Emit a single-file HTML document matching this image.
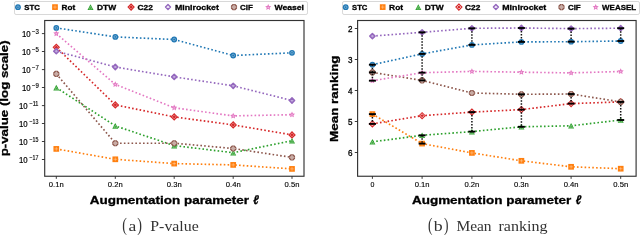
<!DOCTYPE html><html><head><meta charset="utf-8"><style>html,body{margin:0;padding:0;background:#fff;}svg{display:block;will-change:transform;filter:blur(0.3px);}</style></head><body>
<svg width="640" height="235" viewBox="0 0 640 235">
<rect width="640" height="235" fill="#fff"/>
<polyline points="56.3,27.9 115.3,36.9 174.2,39.5 233.2,55.5 292.0,52.8" fill="none" stroke="#1f77b4" stroke-width="1.65" stroke-dasharray="1.6 2.23"/>
<circle cx="56.3" cy="27.9" r="2.9" fill="#1f77b4"/>
<circle cx="56.3" cy="27.9" r="1.3" fill="none" stroke="rgba(255,255,255,0.45)" stroke-width="0.7"/>
<circle cx="115.3" cy="36.9" r="2.9" fill="#1f77b4"/>
<circle cx="115.3" cy="36.9" r="1.3" fill="none" stroke="rgba(255,255,255,0.45)" stroke-width="0.7"/>
<circle cx="174.2" cy="39.5" r="2.9" fill="#1f77b4"/>
<circle cx="174.2" cy="39.5" r="1.3" fill="none" stroke="rgba(255,255,255,0.45)" stroke-width="0.7"/>
<circle cx="233.2" cy="55.5" r="2.9" fill="#1f77b4"/>
<circle cx="233.2" cy="55.5" r="1.3" fill="none" stroke="rgba(255,255,255,0.45)" stroke-width="0.7"/>
<circle cx="292.0" cy="52.8" r="2.9" fill="#1f77b4"/>
<circle cx="292.0" cy="52.8" r="1.3" fill="none" stroke="rgba(255,255,255,0.45)" stroke-width="0.7"/>
<polyline points="56.3,148.9 115.3,159.3 174.2,163.6 233.2,164.9 292.0,168.9" fill="none" stroke="#ff7f0e" stroke-width="1.65" stroke-dasharray="1.6 2.23"/>
<rect x="53.449999999999996" y="146.05" width="5.7" height="5.7" fill="#ff7f0e"/>
<path d="M54.449999999999996,148.9 H58.15 M56.3,147.05 V150.75" stroke="rgba(255,255,255,0.45)" stroke-width="0.7"/>
<rect x="112.45" y="156.45000000000002" width="5.7" height="5.7" fill="#ff7f0e"/>
<path d="M113.45,159.3 H117.14999999999999 M115.3,157.45000000000002 V161.15" stroke="rgba(255,255,255,0.45)" stroke-width="0.7"/>
<rect x="171.35" y="160.75" width="5.7" height="5.7" fill="#ff7f0e"/>
<path d="M172.35,163.6 H176.04999999999998 M174.2,161.75 V165.45" stroke="rgba(255,255,255,0.45)" stroke-width="0.7"/>
<rect x="230.35" y="162.05" width="5.7" height="5.7" fill="#ff7f0e"/>
<path d="M231.35,164.9 H235.04999999999998 M233.2,163.05 V166.75" stroke="rgba(255,255,255,0.45)" stroke-width="0.7"/>
<rect x="289.15" y="166.05" width="5.7" height="5.7" fill="#ff7f0e"/>
<path d="M290.15,168.9 H293.85 M292.0,167.05 V170.75" stroke="rgba(255,255,255,0.45)" stroke-width="0.7"/>
<polyline points="56.3,87.6 115.3,125.9 174.2,145.6 233.2,152.7 292.0,140.7" fill="none" stroke="#2ca02c" stroke-width="1.65" stroke-dasharray="1.6 2.23"/>
<path d="M56.3,84.8 L59.3,90.39999999999999 L53.3,90.39999999999999 Z" fill="#2ca02c"/>
<path d="M56.3,86.8 L57.699999999999996,89.6 L54.9,89.6 Z" fill="none" stroke="rgba(255,255,255,0.45)" stroke-width="0.6"/>
<path d="M115.3,123.10000000000001 L118.3,128.70000000000002 L112.3,128.70000000000002 Z" fill="#2ca02c"/>
<path d="M115.3,125.10000000000001 L116.7,127.90000000000002 L113.89999999999999,127.90000000000002 Z" fill="none" stroke="rgba(255,255,255,0.45)" stroke-width="0.6"/>
<path d="M174.2,142.79999999999998 L177.2,148.4 L171.2,148.4 Z" fill="#2ca02c"/>
<path d="M174.2,144.79999999999998 L175.6,147.6 L172.79999999999998,147.6 Z" fill="none" stroke="rgba(255,255,255,0.45)" stroke-width="0.6"/>
<path d="M233.2,149.89999999999998 L236.2,155.5 L230.2,155.5 Z" fill="#2ca02c"/>
<path d="M233.2,151.89999999999998 L234.6,154.7 L231.79999999999998,154.7 Z" fill="none" stroke="rgba(255,255,255,0.45)" stroke-width="0.6"/>
<path d="M292.0,137.89999999999998 L295.0,143.5 L289.0,143.5 Z" fill="#2ca02c"/>
<path d="M292.0,139.89999999999998 L293.4,142.7 L290.6,142.7 Z" fill="none" stroke="rgba(255,255,255,0.45)" stroke-width="0.6"/>
<polyline points="56.3,47.3 115.3,104.9 174.2,116.9 233.2,124.9 292.0,134.9" fill="none" stroke="#d62728" stroke-width="1.65" stroke-dasharray="1.6 2.23"/>
<path d="M56.3,43.5 L60.099999999999994,47.3 L56.3,51.099999999999994 L52.5,47.3 Z" fill="#d62728"/>
<path d="M56.3,45.3 L58.3,47.3 L56.3,49.3 L54.3,47.3 Z" fill="none" stroke="rgba(255,255,255,0.45)" stroke-width="0.8"/>
<path d="M115.3,101.10000000000001 L119.1,104.9 L115.3,108.7 L111.5,104.9 Z" fill="#d62728"/>
<path d="M115.3,102.9 L117.3,104.9 L115.3,106.9 L113.3,104.9 Z" fill="none" stroke="rgba(255,255,255,0.45)" stroke-width="0.8"/>
<path d="M174.2,113.10000000000001 L178.0,116.9 L174.2,120.7 L170.39999999999998,116.9 Z" fill="#d62728"/>
<path d="M174.2,114.9 L176.2,116.9 L174.2,118.9 L172.2,116.9 Z" fill="none" stroke="rgba(255,255,255,0.45)" stroke-width="0.8"/>
<path d="M233.2,121.10000000000001 L237.0,124.9 L233.2,128.70000000000002 L229.39999999999998,124.9 Z" fill="#d62728"/>
<path d="M233.2,122.9 L235.2,124.9 L233.2,126.9 L231.2,124.9 Z" fill="none" stroke="rgba(255,255,255,0.45)" stroke-width="0.8"/>
<path d="M292.0,131.1 L295.8,134.9 L292.0,138.70000000000002 L288.2,134.9 Z" fill="#d62728"/>
<path d="M292.0,132.9 L294.0,134.9 L292.0,136.9 L290.0,134.9 Z" fill="none" stroke="rgba(255,255,255,0.45)" stroke-width="0.8"/>
<polyline points="56.3,51.2 115.3,67.0 174.2,76.9 233.2,85.8 292.0,100.5" fill="none" stroke="#9467bd" stroke-width="1.65" stroke-dasharray="1.6 2.23"/>
<path d="M56.3,48.6 L58.9,51.2 L56.3,53.800000000000004 L53.699999999999996,51.2 Z" fill="#c2acdc" stroke="#9467bd" stroke-width="1.5" stroke-linejoin="round"/>
<path d="M115.3,64.4 L117.89999999999999,67.0 L115.3,69.6 L112.7,67.0 Z" fill="#c2acdc" stroke="#9467bd" stroke-width="1.5" stroke-linejoin="round"/>
<path d="M174.2,74.30000000000001 L176.79999999999998,76.9 L174.2,79.5 L171.6,76.9 Z" fill="#c2acdc" stroke="#9467bd" stroke-width="1.5" stroke-linejoin="round"/>
<path d="M233.2,83.2 L235.79999999999998,85.8 L233.2,88.39999999999999 L230.6,85.8 Z" fill="#c2acdc" stroke="#9467bd" stroke-width="1.5" stroke-linejoin="round"/>
<path d="M292.0,97.9 L294.6,100.5 L292.0,103.1 L289.4,100.5 Z" fill="#c2acdc" stroke="#9467bd" stroke-width="1.5" stroke-linejoin="round"/>
<polyline points="56.3,73.9 115.3,143.2 174.2,143.2 233.2,148.5 292.0,157.4" fill="none" stroke="#8c564b" stroke-width="1.65" stroke-dasharray="1.6 2.23"/>
<path d="M55.25,71.45 L57.35,71.45 L58.75,72.85 L58.75,74.95 L57.35,76.35 L55.25,76.35 L53.85,74.95 L53.85,72.85 Z" fill="#c9aca5" stroke="#8c564b" stroke-width="1.25"/>
<path d="M53.449999999999996,73.9 H54.74999999999999 M59.15,73.9 H57.85 M56.3,71.05 V72.35000000000001 M56.3,76.75000000000001 V75.45" stroke="#fff" stroke-width="0.6" opacity="0.6"/>
<path d="M114.25,140.75 L116.35,140.75 L117.75,142.15 L117.75,144.25 L116.35,145.65 L114.25,145.65 L112.85,144.25 L112.85,142.15 Z" fill="#c9aca5" stroke="#8c564b" stroke-width="1.25"/>
<path d="M112.44999999999999,143.2 H113.75 M118.15,143.2 H116.85 M115.3,140.35 V141.65 M115.3,146.04999999999998 V144.74999999999997" stroke="#fff" stroke-width="0.6" opacity="0.6"/>
<path d="M173.15,140.75 L175.25,140.75 L176.65,142.15 L176.65,144.25 L175.25,145.65 L173.15,145.65 L171.75,144.25 L171.75,142.15 Z" fill="#c9aca5" stroke="#8c564b" stroke-width="1.25"/>
<path d="M171.35,143.2 H172.65 M177.04999999999998,143.2 H175.74999999999997 M174.2,140.35 V141.65 M174.2,146.04999999999998 V144.74999999999997" stroke="#fff" stroke-width="0.6" opacity="0.6"/>
<path d="M232.15,146.05 L234.25,146.05 L235.65,147.45 L235.65,149.55 L234.25,150.95 L232.15,150.95 L230.75,149.55 L230.75,147.45 Z" fill="#c9aca5" stroke="#8c564b" stroke-width="1.25"/>
<path d="M230.35,148.5 H231.65 M236.04999999999998,148.5 H234.74999999999997 M233.2,145.65 V146.95000000000002 M233.2,151.35 V150.04999999999998" stroke="#fff" stroke-width="0.6" opacity="0.6"/>
<path d="M290.95,154.95 L293.05,154.95 L294.45,156.35 L294.45,158.45 L293.05,159.85 L290.95,159.85 L289.55,158.45 L289.55,156.35 Z" fill="#c9aca5" stroke="#8c564b" stroke-width="1.25"/>
<path d="M289.15000000000003,157.4 H290.45 M294.84999999999997,157.4 H293.55 M292.0,154.55 V155.85000000000002 M292.0,160.25 V158.95" stroke="#fff" stroke-width="0.6" opacity="0.6"/>
<polyline points="56.3,33.6 115.3,84.4 174.2,107.8 233.2,115.9 292.0,114.7" fill="none" stroke="#e377c2" stroke-width="1.65" stroke-dasharray="1.6 2.23"/>
<path d="M56.30,30.40 L57.21,32.35 L59.34,32.61 L57.77,34.08 L58.18,36.19 L56.30,35.15 L54.42,36.19 L54.83,34.08 L53.26,32.61 L55.39,32.35 Z" fill="#e377c2"/>
<circle cx="56.3" cy="33.800000000000004" r="0.8" fill="rgba(255,255,255,0.5)"/>
<path d="M115.30,81.20 L116.21,83.15 L118.34,83.41 L116.77,84.88 L117.18,86.99 L115.30,85.95 L113.42,86.99 L113.83,84.88 L112.26,83.41 L114.39,83.15 Z" fill="#e377c2"/>
<circle cx="115.3" cy="84.60000000000001" r="0.8" fill="rgba(255,255,255,0.5)"/>
<path d="M174.20,104.60 L175.11,106.55 L177.24,106.81 L175.67,108.28 L176.08,110.39 L174.20,109.35 L172.32,110.39 L172.73,108.28 L171.16,106.81 L173.29,106.55 Z" fill="#e377c2"/>
<circle cx="174.2" cy="108.0" r="0.8" fill="rgba(255,255,255,0.5)"/>
<path d="M233.20,112.70 L234.11,114.65 L236.24,114.91 L234.67,116.38 L235.08,118.49 L233.20,117.45 L231.32,118.49 L231.73,116.38 L230.16,114.91 L232.29,114.65 Z" fill="#e377c2"/>
<circle cx="233.2" cy="116.10000000000001" r="0.8" fill="rgba(255,255,255,0.5)"/>
<path d="M292.00,111.50 L292.91,113.45 L295.04,113.71 L293.47,115.18 L293.88,117.29 L292.00,116.25 L290.12,117.29 L290.53,115.18 L288.96,113.71 L291.09,113.45 Z" fill="#e377c2"/>
<circle cx="292.0" cy="114.9" r="0.8" fill="rgba(255,255,255,0.5)"/>
<rect x="44.7" y="20.5" width="259.3" height="155.75" fill="none" stroke="#333" stroke-width="1.15"/>
<line x1="41.900000000000006" y1="33.6" x2="44.7" y2="33.6" stroke="#262626" stroke-width="0.9"/>
<text x="31.9" y="34.1" font-size="6.3" font-family='"Liberation Sans", sans-serif' textLength="6.9" lengthAdjust="spacingAndGlyphs" stroke="#000" stroke-width="0.15">−3</text>
<text x="30.6" y="36.800000000000004" font-size="9.0" font-weight="normal" font-style="normal" font-family='"Liberation Sans", sans-serif' text-anchor="end" textLength="8.7" lengthAdjust="spacingAndGlyphs" stroke="#000" stroke-width="0.2">10</text>
<line x1="41.900000000000006" y1="51.5" x2="44.7" y2="51.5" stroke="#262626" stroke-width="0.9"/>
<text x="31.9" y="52.0" font-size="6.3" font-family='"Liberation Sans", sans-serif' textLength="6.9" lengthAdjust="spacingAndGlyphs" stroke="#000" stroke-width="0.15">−5</text>
<text x="30.6" y="54.7" font-size="9.0" font-weight="normal" font-style="normal" font-family='"Liberation Sans", sans-serif' text-anchor="end" textLength="8.7" lengthAdjust="spacingAndGlyphs" stroke="#000" stroke-width="0.2">10</text>
<line x1="41.900000000000006" y1="69.6" x2="44.7" y2="69.6" stroke="#262626" stroke-width="0.9"/>
<text x="31.9" y="70.1" font-size="6.3" font-family='"Liberation Sans", sans-serif' textLength="6.9" lengthAdjust="spacingAndGlyphs" stroke="#000" stroke-width="0.15">−7</text>
<text x="30.6" y="72.8" font-size="9.0" font-weight="normal" font-style="normal" font-family='"Liberation Sans", sans-serif' text-anchor="end" textLength="8.7" lengthAdjust="spacingAndGlyphs" stroke="#000" stroke-width="0.2">10</text>
<line x1="41.900000000000006" y1="87.5" x2="44.7" y2="87.5" stroke="#262626" stroke-width="0.9"/>
<text x="31.9" y="88.0" font-size="6.3" font-family='"Liberation Sans", sans-serif' textLength="6.9" lengthAdjust="spacingAndGlyphs" stroke="#000" stroke-width="0.15">−9</text>
<text x="30.6" y="90.7" font-size="9.0" font-weight="normal" font-style="normal" font-family='"Liberation Sans", sans-serif' text-anchor="end" textLength="8.7" lengthAdjust="spacingAndGlyphs" stroke="#000" stroke-width="0.2">10</text>
<line x1="41.900000000000006" y1="105.6" x2="44.7" y2="105.6" stroke="#262626" stroke-width="0.9"/>
<text x="29.4" y="106.1" font-size="6.3" font-family='"Liberation Sans", sans-serif' textLength="9.0" lengthAdjust="spacingAndGlyphs" stroke="#000" stroke-width="0.15">−11</text>
<text x="27.6" y="108.8" font-size="9.0" font-weight="normal" font-style="normal" font-family='"Liberation Sans", sans-serif' text-anchor="end" textLength="8.7" lengthAdjust="spacingAndGlyphs" stroke="#000" stroke-width="0.2">10</text>
<line x1="41.900000000000006" y1="123.5" x2="44.7" y2="123.5" stroke="#262626" stroke-width="0.9"/>
<text x="29.4" y="124.0" font-size="6.3" font-family='"Liberation Sans", sans-serif' textLength="9.0" lengthAdjust="spacingAndGlyphs" stroke="#000" stroke-width="0.15">−13</text>
<text x="27.6" y="126.7" font-size="9.0" font-weight="normal" font-style="normal" font-family='"Liberation Sans", sans-serif' text-anchor="end" textLength="8.7" lengthAdjust="spacingAndGlyphs" stroke="#000" stroke-width="0.2">10</text>
<line x1="41.900000000000006" y1="141.5" x2="44.7" y2="141.5" stroke="#262626" stroke-width="0.9"/>
<text x="29.4" y="142.0" font-size="6.3" font-family='"Liberation Sans", sans-serif' textLength="9.0" lengthAdjust="spacingAndGlyphs" stroke="#000" stroke-width="0.15">−15</text>
<text x="27.6" y="144.7" font-size="9.0" font-weight="normal" font-style="normal" font-family='"Liberation Sans", sans-serif' text-anchor="end" textLength="8.7" lengthAdjust="spacingAndGlyphs" stroke="#000" stroke-width="0.2">10</text>
<line x1="41.900000000000006" y1="159.5" x2="44.7" y2="159.5" stroke="#262626" stroke-width="0.9"/>
<text x="29.4" y="160.0" font-size="6.3" font-family='"Liberation Sans", sans-serif' textLength="9.0" lengthAdjust="spacingAndGlyphs" stroke="#000" stroke-width="0.15">−17</text>
<text x="27.6" y="162.7" font-size="9.0" font-weight="normal" font-style="normal" font-family='"Liberation Sans", sans-serif' text-anchor="end" textLength="8.7" lengthAdjust="spacingAndGlyphs" stroke="#000" stroke-width="0.2">10</text>
<line x1="56.3" y1="176.25" x2="56.3" y2="178.85" stroke="#262626" stroke-width="0.9"/>
<text x="56.3" y="186.9" font-size="7.0" font-weight="normal" font-style="normal" font-family='"Liberation Sans", sans-serif' text-anchor="middle" textLength="14.9" lengthAdjust="spacingAndGlyphs" stroke="#000" stroke-width="0.12">0.1n</text>
<line x1="115.3" y1="176.25" x2="115.3" y2="178.85" stroke="#262626" stroke-width="0.9"/>
<text x="115.3" y="186.9" font-size="7.0" font-weight="normal" font-style="normal" font-family='"Liberation Sans", sans-serif' text-anchor="middle" textLength="14.9" lengthAdjust="spacingAndGlyphs" stroke="#000" stroke-width="0.12">0.2n</text>
<line x1="174.2" y1="176.25" x2="174.2" y2="178.85" stroke="#262626" stroke-width="0.9"/>
<text x="174.2" y="186.9" font-size="7.0" font-weight="normal" font-style="normal" font-family='"Liberation Sans", sans-serif' text-anchor="middle" textLength="14.9" lengthAdjust="spacingAndGlyphs" stroke="#000" stroke-width="0.12">0.3n</text>
<line x1="233.2" y1="176.25" x2="233.2" y2="178.85" stroke="#262626" stroke-width="0.9"/>
<text x="233.2" y="186.9" font-size="7.0" font-weight="normal" font-style="normal" font-family='"Liberation Sans", sans-serif' text-anchor="middle" textLength="14.9" lengthAdjust="spacingAndGlyphs" stroke="#000" stroke-width="0.12">0.4n</text>
<line x1="292.0" y1="176.25" x2="292.0" y2="178.85" stroke="#262626" stroke-width="0.9"/>
<text x="292.0" y="186.9" font-size="7.0" font-weight="normal" font-style="normal" font-family='"Liberation Sans", sans-serif' text-anchor="middle" textLength="14.9" lengthAdjust="spacingAndGlyphs" stroke="#000" stroke-width="0.12">0.5n</text>
<text x="89.75" y="203.5" font-size="10.5" font-weight="bold" font-style="normal" font-family='"Liberation Sans", sans-serif' text-anchor="start" textLength="159.25" lengthAdjust="spacingAndGlyphs"  stroke="#000" stroke-width="0.3">Augmentation parameter</text>
<text x="253.3" y="203.6" font-size="12.5" font-weight="bold" font-style="italic" font-family='"Liberation Sans", sans-serif' text-anchor="start" textLength="5.6" lengthAdjust="spacingAndGlyphs"  stroke="#000" stroke-width="0.3">ℓ</text>
<g transform="translate(8.4,98.35) rotate(-90)">
<text x="0" y="0" font-size="11.5" font-weight="bold" font-style="normal" font-family='"Liberation Sans", sans-serif' text-anchor="middle" textLength="116" lengthAdjust="spacingAndGlyphs"  stroke="#000" stroke-width="0.3">p-value (log scale)</text>
</g>
<text transform="translate(122.3,231.1) scale(1,1.38)" x="0" y="0" font-size="14" font-family='"Liberation Serif", serif' fill="#333" textLength="4.6" lengthAdjust="spacingAndGlyphs">(</text>
<text x="128.5" y="231.1" font-size="15" font-weight="normal" font-style="normal" font-family='"Liberation Serif", serif' text-anchor="start" textLength="7.8" lengthAdjust="spacingAndGlyphs" fill="#333">a</text>
<text transform="translate(137.2,231.1) scale(1,1.38)" x="0" y="0" font-size="14" font-family='"Liberation Serif", serif' fill="#333" textLength="4.7" lengthAdjust="spacingAndGlyphs">)</text>
<text x="150.3" y="231.1" font-size="14" font-weight="normal" font-style="normal" font-family='"Liberation Serif", serif' text-anchor="start" textLength="48.45" lengthAdjust="spacingAndGlyphs" fill="#333">P-value</text>
<rect x="14.5" y="1.5" width="293" height="13" rx="1.6" fill="#fff" stroke="#d8d8d8" stroke-width="1"/>
<circle cx="17.96" cy="7.2" r="2.9" fill="#1f77b4"/>
<circle cx="17.96" cy="7.2" r="1.3" fill="none" stroke="rgba(255,255,255,0.45)" stroke-width="0.7"/>
<text x="24.3" y="9.9" font-size="8.1" font-weight="bold" font-style="normal" font-family='"Liberation Sans", sans-serif' text-anchor="start" textLength="15.6" lengthAdjust="spacingAndGlyphs"  stroke="#000" stroke-width="0.3">STC</text>
<rect x="52.15" y="4.25" width="5.7" height="5.7" fill="#ff7f0e"/>
<path d="M53.15,7.1 H56.85 M55.0,5.25 V8.95" stroke="rgba(255,255,255,0.45)" stroke-width="0.7"/>
<text x="61.6" y="9.9" font-size="8.1" font-weight="bold" font-style="normal" font-family='"Liberation Sans", sans-serif' text-anchor="start" textLength="13.7" lengthAdjust="spacingAndGlyphs"  stroke="#000" stroke-width="0.3">Rot</text>
<path d="M90.5,4.3 L93.5,9.899999999999999 L87.5,9.899999999999999 Z" fill="#2ca02c"/>
<path d="M90.5,6.3 L91.9,9.099999999999998 L89.1,9.099999999999998 Z" fill="none" stroke="rgba(255,255,255,0.45)" stroke-width="0.6"/>
<text x="96.9" y="9.9" font-size="8.1" font-weight="bold" font-style="normal" font-family='"Liberation Sans", sans-serif' text-anchor="start" textLength="19.2" lengthAdjust="spacingAndGlyphs"  stroke="#000" stroke-width="0.3">DTW</text>
<path d="M131.1,3.3 L134.9,7.1 L131.1,10.899999999999999 L127.3,7.1 Z" fill="#d62728"/>
<path d="M131.1,5.1 L133.1,7.1 L131.1,9.1 L129.1,7.1 Z" fill="none" stroke="rgba(255,255,255,0.45)" stroke-width="0.8"/>
<text x="137.5" y="9.9" font-size="8.1" font-weight="bold" font-style="normal" font-family='"Liberation Sans", sans-serif' text-anchor="start" textLength="15.3" lengthAdjust="spacingAndGlyphs"  stroke="#000" stroke-width="0.3">C22</text>
<path d="M168.0,4.6 L170.5,7.1 L168.0,9.6 L165.5,7.1 Z" fill="#f2ecf8" stroke="#9467bd" stroke-width="1.4" stroke-linejoin="round"/>
<text x="174.9" y="9.9" font-size="8.1" font-weight="bold" font-style="normal" font-family='"Liberation Sans", sans-serif' text-anchor="start" textLength="44.0" lengthAdjust="spacingAndGlyphs"  stroke="#000" stroke-width="0.3">Minirocket</text>
<path d="M232.95,4.65 L235.05,4.65 L236.45,6.05 L236.45,8.15 L235.05,9.55 L232.95,9.55 L231.55,8.15 L231.55,6.05 Z" fill="#c9aca5" stroke="#8c564b" stroke-width="1.25"/>
<path d="M231.15,7.1 H232.45000000000002 M236.85,7.1 H235.54999999999998 M234.0,4.249999999999999 V5.55 M234.0,9.950000000000001 V8.65" stroke="#fff" stroke-width="0.6" opacity="0.6"/>
<text x="240.0" y="9.9" font-size="8.1" font-weight="bold" font-style="normal" font-family='"Liberation Sans", sans-serif' text-anchor="start" textLength="12.8" lengthAdjust="spacingAndGlyphs"  stroke="#000" stroke-width="0.3">CIF</text>
<path d="M268.20,4.10 L269.11,6.05 L271.24,6.31 L269.67,7.78 L270.08,9.89 L268.20,8.85 L266.32,9.89 L266.73,7.78 L265.16,6.31 L267.29,6.05 Z" fill="#e377c2"/>
<circle cx="268.2" cy="7.5" r="0.8" fill="rgba(255,255,255,0.5)"/>
<text x="274.5" y="9.9" font-size="8.1" font-weight="bold" font-style="normal" font-family='"Liberation Sans", sans-serif' text-anchor="start" textLength="29.5" lengthAdjust="spacingAndGlyphs"  stroke="#000" stroke-width="0.3">Weasel</text>
<polyline points="372.4,64.7 422.1,53.9 471.9,44.9 521.4,41.9 571.1,41.7 620.7,41.0" fill="none" stroke="#1f77b4" stroke-width="1.65" stroke-dasharray="1.6 2.23"/>
<circle cx="372.4" cy="64.7" r="2.9" fill="#1f77b4"/>
<circle cx="372.4" cy="64.7" r="1.3" fill="none" stroke="rgba(255,255,255,0.45)" stroke-width="0.7"/>
<circle cx="422.1" cy="53.9" r="2.9" fill="#1f77b4"/>
<circle cx="422.1" cy="53.9" r="1.3" fill="none" stroke="rgba(255,255,255,0.45)" stroke-width="0.7"/>
<circle cx="471.9" cy="44.9" r="2.9" fill="#1f77b4"/>
<circle cx="471.9" cy="44.9" r="1.3" fill="none" stroke="rgba(255,255,255,0.45)" stroke-width="0.7"/>
<circle cx="521.4" cy="41.9" r="2.9" fill="#1f77b4"/>
<circle cx="521.4" cy="41.9" r="1.3" fill="none" stroke="rgba(255,255,255,0.45)" stroke-width="0.7"/>
<circle cx="571.1" cy="41.7" r="2.9" fill="#1f77b4"/>
<circle cx="571.1" cy="41.7" r="1.3" fill="none" stroke="rgba(255,255,255,0.45)" stroke-width="0.7"/>
<circle cx="620.7" cy="41.0" r="2.9" fill="#1f77b4"/>
<circle cx="620.7" cy="41.0" r="1.3" fill="none" stroke="rgba(255,255,255,0.45)" stroke-width="0.7"/>
<polyline points="372.4,114.1 422.1,143.6 471.9,152.9 521.4,160.8 571.1,166.8 620.7,168.7" fill="none" stroke="#ff7f0e" stroke-width="1.65" stroke-dasharray="1.6 2.23"/>
<rect x="369.54999999999995" y="111.25" width="5.7" height="5.7" fill="#ff7f0e"/>
<path d="M370.54999999999995,114.1 H374.25 M372.4,112.25 V115.94999999999999" stroke="rgba(255,255,255,0.45)" stroke-width="0.7"/>
<rect x="419.25" y="140.75" width="5.7" height="5.7" fill="#ff7f0e"/>
<path d="M420.25,143.6 H423.95000000000005 M422.1,141.75 V145.45" stroke="rgba(255,255,255,0.45)" stroke-width="0.7"/>
<rect x="469.04999999999995" y="150.05" width="5.7" height="5.7" fill="#ff7f0e"/>
<path d="M470.04999999999995,152.9 H473.75 M471.9,151.05 V154.75" stroke="rgba(255,255,255,0.45)" stroke-width="0.7"/>
<rect x="518.55" y="157.95000000000002" width="5.7" height="5.7" fill="#ff7f0e"/>
<path d="M519.55,160.8 H523.25 M521.4,158.95000000000002 V162.65" stroke="rgba(255,255,255,0.45)" stroke-width="0.7"/>
<rect x="568.25" y="163.95000000000002" width="5.7" height="5.7" fill="#ff7f0e"/>
<path d="M569.25,166.8 H572.95 M571.1,164.95000000000002 V168.65" stroke="rgba(255,255,255,0.45)" stroke-width="0.7"/>
<rect x="617.85" y="165.85" width="5.7" height="5.7" fill="#ff7f0e"/>
<path d="M618.85,168.7 H622.5500000000001 M620.7,166.85 V170.54999999999998" stroke="rgba(255,255,255,0.45)" stroke-width="0.7"/>
<polyline points="372.4,141.8 422.1,135.3 471.9,131.6 521.4,126.8 571.1,125.8 620.7,120.0" fill="none" stroke="#2ca02c" stroke-width="1.65" stroke-dasharray="1.6 2.23"/>
<path d="M372.4,139.0 L375.4,144.60000000000002 L369.4,144.60000000000002 Z" fill="#2ca02c"/>
<path d="M372.4,141.0 L373.79999999999995,143.8 L371.0,143.8 Z" fill="none" stroke="rgba(255,255,255,0.45)" stroke-width="0.6"/>
<path d="M422.1,132.5 L425.1,138.10000000000002 L419.1,138.10000000000002 Z" fill="#2ca02c"/>
<path d="M422.1,134.5 L423.5,137.3 L420.70000000000005,137.3 Z" fill="none" stroke="rgba(255,255,255,0.45)" stroke-width="0.6"/>
<path d="M471.9,128.79999999999998 L474.9,134.4 L468.9,134.4 Z" fill="#2ca02c"/>
<path d="M471.9,130.79999999999998 L473.29999999999995,133.6 L470.5,133.6 Z" fill="none" stroke="rgba(255,255,255,0.45)" stroke-width="0.6"/>
<path d="M521.4,124.0 L524.4,129.6 L518.4,129.6 Z" fill="#2ca02c"/>
<path d="M521.4,126.0 L522.8,128.79999999999998 L520.0,128.79999999999998 Z" fill="none" stroke="rgba(255,255,255,0.45)" stroke-width="0.6"/>
<path d="M571.1,123.0 L574.1,128.6 L568.1,128.6 Z" fill="#2ca02c"/>
<path d="M571.1,125.0 L572.5,127.8 L569.7,127.8 Z" fill="none" stroke="rgba(255,255,255,0.45)" stroke-width="0.6"/>
<path d="M620.7,117.2 L623.7,122.8 L617.7,122.8 Z" fill="#2ca02c"/>
<path d="M620.7,119.2 L622.1,122.0 L619.3000000000001,122.0 Z" fill="none" stroke="rgba(255,255,255,0.45)" stroke-width="0.6"/>
<polyline points="372.4,123.9 422.1,115.7 471.9,112.1 521.4,109.6 571.1,103.6 620.7,101.9" fill="none" stroke="#d62728" stroke-width="1.65" stroke-dasharray="1.6 2.23"/>
<path d="M372.4,120.10000000000001 L376.2,123.9 L372.4,127.7 L368.59999999999997,123.9 Z" fill="#d62728"/>
<path d="M372.4,121.9 L374.4,123.9 L372.4,125.9 L370.4,123.9 Z" fill="none" stroke="rgba(255,255,255,0.8)" stroke-width="0.8"/>
<path d="M422.1,111.9 L425.90000000000003,115.7 L422.1,119.5 L418.3,115.7 Z" fill="#d62728"/>
<path d="M422.1,113.7 L424.1,115.7 L422.1,117.7 L420.1,115.7 Z" fill="none" stroke="rgba(255,255,255,0.8)" stroke-width="0.8"/>
<path d="M471.9,108.3 L475.7,112.1 L471.9,115.89999999999999 L468.09999999999997,112.1 Z" fill="#d62728"/>
<path d="M471.9,110.1 L473.9,112.1 L471.9,114.1 L469.9,112.1 Z" fill="none" stroke="rgba(255,255,255,0.8)" stroke-width="0.8"/>
<path d="M521.4,105.8 L525.1999999999999,109.6 L521.4,113.39999999999999 L517.6,109.6 Z" fill="#d62728"/>
<path d="M521.4,107.6 L523.4,109.6 L521.4,111.6 L519.4,109.6 Z" fill="none" stroke="rgba(255,255,255,0.8)" stroke-width="0.8"/>
<path d="M571.1,99.8 L574.9,103.6 L571.1,107.39999999999999 L567.3000000000001,103.6 Z" fill="#d62728"/>
<path d="M571.1,101.6 L573.1,103.6 L571.1,105.6 L569.1,103.6 Z" fill="none" stroke="rgba(255,255,255,0.8)" stroke-width="0.8"/>
<path d="M620.7,98.10000000000001 L624.5,101.9 L620.7,105.7 L616.9000000000001,101.9 Z" fill="#d62728"/>
<path d="M620.7,99.9 L622.7,101.9 L620.7,103.9 L618.7,101.9 Z" fill="none" stroke="rgba(255,255,255,0.8)" stroke-width="0.8"/>
<polyline points="372.4,36.1 422.1,32.3 471.9,28.3 521.4,28.0 571.1,28.6 620.7,28.2" fill="none" stroke="#9467bd" stroke-width="1.65" stroke-dasharray="1.6 2.23"/>
<path d="M372.4,33.5 L375.0,36.1 L372.4,38.7 L369.79999999999995,36.1 Z" fill="#c2acdc" stroke="#9467bd" stroke-width="1.5" stroke-linejoin="round"/>
<path d="M422.1,29.699999999999996 L424.70000000000005,32.3 L422.1,34.9 L419.5,32.3 Z" fill="#c2acdc" stroke="#9467bd" stroke-width="1.5" stroke-linejoin="round"/>
<path d="M471.9,25.7 L474.5,28.3 L471.9,30.900000000000002 L469.29999999999995,28.3 Z" fill="#c2acdc" stroke="#9467bd" stroke-width="1.5" stroke-linejoin="round"/>
<path d="M521.4,25.4 L524.0,28.0 L521.4,30.6 L518.8,28.0 Z" fill="#c2acdc" stroke="#9467bd" stroke-width="1.5" stroke-linejoin="round"/>
<path d="M571.1,26.0 L573.7,28.6 L571.1,31.200000000000003 L568.5,28.6 Z" fill="#c2acdc" stroke="#9467bd" stroke-width="1.5" stroke-linejoin="round"/>
<path d="M620.7,25.599999999999998 L623.3000000000001,28.2 L620.7,30.8 L618.1,28.2 Z" fill="#c2acdc" stroke="#9467bd" stroke-width="1.5" stroke-linejoin="round"/>
<polyline points="372.4,72.4 422.1,80.4 471.9,93.0 521.4,94.3 571.1,94.0 620.7,101.9" fill="none" stroke="#8c564b" stroke-width="1.65" stroke-dasharray="1.6 2.23"/>
<path d="M371.35,69.95 L373.45,69.95 L374.85,71.35 L374.85,73.45 L373.45,74.85 L371.35,74.85 L369.95,73.45 L369.95,71.35 Z" fill="#c9aca5" stroke="#8c564b" stroke-width="1.25"/>
<path d="M369.55,72.4 H370.84999999999997 M375.24999999999994,72.4 H373.95 M372.4,69.55 V70.85000000000001 M372.4,75.25000000000001 V73.95" stroke="#fff" stroke-width="0.6" opacity="0.6"/>
<path d="M421.05,77.95 L423.15,77.95 L424.55,79.35 L424.55,81.45 L423.15,82.85 L421.05,82.85 L419.65,81.45 L419.65,79.35 Z" fill="#c9aca5" stroke="#8c564b" stroke-width="1.25"/>
<path d="M419.25000000000006,80.4 H420.55 M424.95,80.4 H423.65000000000003 M422.1,77.55 V78.85000000000001 M422.1,83.25000000000001 V81.95" stroke="#fff" stroke-width="0.6" opacity="0.6"/>
<path d="M470.85,90.55 L472.95,90.55 L474.35,91.95 L474.35,94.05 L472.95,95.45 L470.85,95.45 L469.45,94.05 L469.45,91.95 Z" fill="#c9aca5" stroke="#8c564b" stroke-width="1.25"/>
<path d="M469.05,93.0 H470.34999999999997 M474.74999999999994,93.0 H473.45 M471.9,90.14999999999999 V91.45 M471.9,95.85000000000001 V94.55" stroke="#fff" stroke-width="0.6" opacity="0.6"/>
<path d="M520.35,91.85 L522.45,91.85 L523.85,93.25 L523.85,95.35 L522.45,96.75 L520.35,96.75 L518.95,95.35 L518.95,93.25 Z" fill="#c9aca5" stroke="#8c564b" stroke-width="1.25"/>
<path d="M518.55,94.3 H519.8499999999999 M524.25,94.3 H522.95 M521.4,91.44999999999999 V92.75 M521.4,97.15 V95.85" stroke="#fff" stroke-width="0.6" opacity="0.6"/>
<path d="M570.05,91.55 L572.15,91.55 L573.55,92.95 L573.55,95.05 L572.15,96.45 L570.05,96.45 L568.65,95.05 L568.65,92.95 Z" fill="#c9aca5" stroke="#8c564b" stroke-width="1.25"/>
<path d="M568.25,94.0 H569.55 M573.95,94.0 H572.6500000000001 M571.1,91.14999999999999 V92.45 M571.1,96.85000000000001 V95.55" stroke="#fff" stroke-width="0.6" opacity="0.6"/>
<path d="M619.65,99.45 L621.75,99.45 L623.15,100.85 L623.15,102.95 L621.75,104.35 L619.65,104.35 L618.25,102.95 L618.25,100.85 Z" fill="#c9aca5" stroke="#8c564b" stroke-width="1.25"/>
<path d="M617.85,101.9 H619.15 M623.5500000000001,101.9 H622.2500000000001 M620.7,99.05 V100.35000000000001 M620.7,104.75000000000001 V103.45" stroke="#fff" stroke-width="0.6" opacity="0.6"/>
<polyline points="372.4,80.7 422.1,72.7 471.9,71.4 521.4,72.2 571.1,72.9 620.7,71.5" fill="none" stroke="#e377c2" stroke-width="1.65" stroke-dasharray="1.6 2.23"/>
<path d="M372.40,77.50 L373.31,79.45 L375.44,79.71 L373.87,81.18 L374.28,83.29 L372.40,82.25 L370.52,83.29 L370.93,81.18 L369.36,79.71 L371.49,79.45 Z" fill="#e377c2"/>
<circle cx="372.4" cy="80.9" r="0.8" fill="rgba(255,255,255,0.5)"/>
<path d="M422.10,69.50 L423.01,71.45 L425.14,71.71 L423.57,73.18 L423.98,75.29 L422.10,74.25 L420.22,75.29 L420.63,73.18 L419.06,71.71 L421.19,71.45 Z" fill="#e377c2"/>
<circle cx="422.1" cy="72.9" r="0.8" fill="rgba(255,255,255,0.5)"/>
<path d="M471.90,68.20 L472.81,70.15 L474.94,70.41 L473.37,71.88 L473.78,73.99 L471.90,72.95 L470.02,73.99 L470.43,71.88 L468.86,70.41 L470.99,70.15 Z" fill="#e377c2"/>
<circle cx="471.9" cy="71.60000000000001" r="0.8" fill="rgba(255,255,255,0.5)"/>
<path d="M521.40,69.00 L522.31,70.95 L524.44,71.21 L522.87,72.68 L523.28,74.79 L521.40,73.75 L519.52,74.79 L519.93,72.68 L518.36,71.21 L520.49,70.95 Z" fill="#e377c2"/>
<circle cx="521.4" cy="72.4" r="0.8" fill="rgba(255,255,255,0.5)"/>
<path d="M571.10,69.70 L572.01,71.65 L574.14,71.91 L572.57,73.38 L572.98,75.49 L571.10,74.45 L569.22,75.49 L569.63,73.38 L568.06,71.91 L570.19,71.65 Z" fill="#e377c2"/>
<circle cx="571.1" cy="73.10000000000001" r="0.8" fill="rgba(255,255,255,0.5)"/>
<path d="M620.70,68.30 L621.61,70.25 L623.74,70.51 L622.17,71.98 L622.58,74.09 L620.70,73.05 L618.82,74.09 L619.23,71.98 L617.66,70.51 L619.79,70.25 Z" fill="#e377c2"/>
<circle cx="620.7" cy="71.7" r="0.8" fill="rgba(255,255,255,0.5)"/>
<line x1="372.4" y1="64.7" x2="372.4" y2="80.7" stroke="#111" stroke-width="1.5" stroke-dasharray="1.5 1.5"/>
<line x1="368.9" y1="64.7" x2="375.9" y2="64.7" stroke="#000" stroke-width="1.9"/>
<line x1="368.9" y1="72.4" x2="375.9" y2="72.4" stroke="#000" stroke-width="1.9"/>
<line x1="368.9" y1="80.7" x2="375.9" y2="80.7" stroke="#000" stroke-width="1.9"/>
<line x1="372.4" y1="114.1" x2="372.4" y2="123.9" stroke="#111" stroke-width="1.5" stroke-dasharray="1.5 1.5"/>
<line x1="368.9" y1="114.1" x2="375.9" y2="114.1" stroke="#000" stroke-width="1.9"/>
<line x1="368.9" y1="123.9" x2="375.9" y2="123.9" stroke="#000" stroke-width="1.9"/>
<line x1="422.1" y1="32.3" x2="422.1" y2="80.4" stroke="#111" stroke-width="1.5" stroke-dasharray="1.5 1.5"/>
<line x1="418.6" y1="32.3" x2="425.6" y2="32.3" stroke="#000" stroke-width="1.9"/>
<line x1="418.6" y1="53.9" x2="425.6" y2="53.9" stroke="#000" stroke-width="1.9"/>
<line x1="418.6" y1="72.7" x2="425.6" y2="72.7" stroke="#000" stroke-width="1.9"/>
<line x1="418.6" y1="80.4" x2="425.6" y2="80.4" stroke="#000" stroke-width="1.9"/>
<line x1="422.1" y1="135.3" x2="422.1" y2="143.6" stroke="#111" stroke-width="1.5" stroke-dasharray="1.5 1.5"/>
<line x1="418.6" y1="135.3" x2="425.6" y2="135.3" stroke="#000" stroke-width="1.9"/>
<line x1="418.6" y1="143.6" x2="425.6" y2="143.6" stroke="#000" stroke-width="1.9"/>
<line x1="471.9" y1="28.3" x2="471.9" y2="44.9" stroke="#111" stroke-width="1.5" stroke-dasharray="1.5 1.5"/>
<line x1="468.4" y1="28.3" x2="475.4" y2="28.3" stroke="#000" stroke-width="1.9"/>
<line x1="468.4" y1="44.9" x2="475.4" y2="44.9" stroke="#000" stroke-width="1.9"/>
<line x1="471.9" y1="112.1" x2="471.9" y2="131.6" stroke="#111" stroke-width="1.5" stroke-dasharray="1.5 1.5"/>
<line x1="468.4" y1="112.1" x2="475.4" y2="112.1" stroke="#000" stroke-width="1.9"/>
<line x1="468.4" y1="131.6" x2="475.4" y2="131.6" stroke="#000" stroke-width="1.9"/>
<line x1="521.4" y1="28.0" x2="521.4" y2="41.9" stroke="#111" stroke-width="1.5" stroke-dasharray="1.5 1.5"/>
<line x1="517.9" y1="28.0" x2="524.9" y2="28.0" stroke="#000" stroke-width="1.9"/>
<line x1="517.9" y1="41.9" x2="524.9" y2="41.9" stroke="#000" stroke-width="1.9"/>
<line x1="521.4" y1="94.3" x2="521.4" y2="126.8" stroke="#111" stroke-width="1.5" stroke-dasharray="1.5 1.5"/>
<line x1="517.9" y1="94.3" x2="524.9" y2="94.3" stroke="#000" stroke-width="1.9"/>
<line x1="517.9" y1="109.6" x2="524.9" y2="109.6" stroke="#000" stroke-width="1.9"/>
<line x1="517.9" y1="126.8" x2="524.9" y2="126.8" stroke="#000" stroke-width="1.9"/>
<line x1="571.1" y1="28.6" x2="571.1" y2="41.7" stroke="#111" stroke-width="1.5" stroke-dasharray="1.5 1.5"/>
<line x1="567.6" y1="28.6" x2="574.6" y2="28.6" stroke="#000" stroke-width="1.9"/>
<line x1="567.6" y1="41.7" x2="574.6" y2="41.7" stroke="#000" stroke-width="1.9"/>
<line x1="571.1" y1="94.0" x2="571.1" y2="103.6" stroke="#111" stroke-width="1.5" stroke-dasharray="1.5 1.5"/>
<line x1="567.6" y1="94.0" x2="574.6" y2="94.0" stroke="#000" stroke-width="1.9"/>
<line x1="567.6" y1="103.6" x2="574.6" y2="103.6" stroke="#000" stroke-width="1.9"/>
<line x1="620.7" y1="28.2" x2="620.7" y2="41.0" stroke="#111" stroke-width="1.5" stroke-dasharray="1.5 1.5"/>
<line x1="617.2" y1="28.2" x2="624.2" y2="28.2" stroke="#000" stroke-width="1.9"/>
<line x1="617.2" y1="41.0" x2="624.2" y2="41.0" stroke="#000" stroke-width="1.9"/>
<line x1="620.7" y1="101.9" x2="620.7" y2="120.0" stroke="#111" stroke-width="1.5" stroke-dasharray="1.5 1.5"/>
<line x1="617.2" y1="101.9" x2="624.2" y2="101.9" stroke="#000" stroke-width="1.9"/>
<line x1="617.2" y1="120.0" x2="624.2" y2="120.0" stroke="#000" stroke-width="1.9"/>
<rect x="357.6" y="20.5" width="278.5" height="155.75" fill="none" stroke="#333" stroke-width="1.15"/>
<line x1="354.8" y1="28.5" x2="357.6" y2="28.5" stroke="#262626" stroke-width="0.9"/>
<text x="352.4" y="31.5" font-size="8.5" font-weight="normal" font-style="normal" font-family='"Liberation Sans", sans-serif' text-anchor="end" textLength="4.5" lengthAdjust="spacingAndGlyphs" stroke="#000" stroke-width="0.3">2</text>
<line x1="354.8" y1="59.5" x2="357.6" y2="59.5" stroke="#262626" stroke-width="0.9"/>
<text x="352.4" y="62.5" font-size="8.5" font-weight="normal" font-style="normal" font-family='"Liberation Sans", sans-serif' text-anchor="end" textLength="4.5" lengthAdjust="spacingAndGlyphs" stroke="#000" stroke-width="0.3">3</text>
<line x1="354.8" y1="90.5" x2="357.6" y2="90.5" stroke="#262626" stroke-width="0.9"/>
<text x="352.4" y="93.5" font-size="8.5" font-weight="normal" font-style="normal" font-family='"Liberation Sans", sans-serif' text-anchor="end" textLength="4.5" lengthAdjust="spacingAndGlyphs" stroke="#000" stroke-width="0.3">4</text>
<line x1="354.8" y1="121.5" x2="357.6" y2="121.5" stroke="#262626" stroke-width="0.9"/>
<text x="352.4" y="124.5" font-size="8.5" font-weight="normal" font-style="normal" font-family='"Liberation Sans", sans-serif' text-anchor="end" textLength="4.5" lengthAdjust="spacingAndGlyphs" stroke="#000" stroke-width="0.3">5</text>
<line x1="354.8" y1="152.5" x2="357.6" y2="152.5" stroke="#262626" stroke-width="0.9"/>
<text x="352.4" y="155.5" font-size="8.5" font-weight="normal" font-style="normal" font-family='"Liberation Sans", sans-serif' text-anchor="end" textLength="4.5" lengthAdjust="spacingAndGlyphs" stroke="#000" stroke-width="0.3">6</text>
<line x1="372.4" y1="176.25" x2="372.4" y2="178.85" stroke="#262626" stroke-width="0.9"/>
<text x="372.4" y="186.9" font-size="7.0" font-weight="normal" font-style="normal" font-family='"Liberation Sans", sans-serif' text-anchor="middle" stroke="#000" stroke-width="0.12">0</text>
<line x1="422.1" y1="176.25" x2="422.1" y2="178.85" stroke="#262626" stroke-width="0.9"/>
<text x="422.1" y="186.9" font-size="7.0" font-weight="normal" font-style="normal" font-family='"Liberation Sans", sans-serif' text-anchor="middle" textLength="14.9" lengthAdjust="spacingAndGlyphs" stroke="#000" stroke-width="0.12">0.1n</text>
<line x1="471.9" y1="176.25" x2="471.9" y2="178.85" stroke="#262626" stroke-width="0.9"/>
<text x="471.9" y="186.9" font-size="7.0" font-weight="normal" font-style="normal" font-family='"Liberation Sans", sans-serif' text-anchor="middle" textLength="14.9" lengthAdjust="spacingAndGlyphs" stroke="#000" stroke-width="0.12">0.2n</text>
<line x1="521.4" y1="176.25" x2="521.4" y2="178.85" stroke="#262626" stroke-width="0.9"/>
<text x="521.4" y="186.9" font-size="7.0" font-weight="normal" font-style="normal" font-family='"Liberation Sans", sans-serif' text-anchor="middle" textLength="14.9" lengthAdjust="spacingAndGlyphs" stroke="#000" stroke-width="0.12">0.3n</text>
<line x1="571.1" y1="176.25" x2="571.1" y2="178.85" stroke="#262626" stroke-width="0.9"/>
<text x="571.1" y="186.9" font-size="7.0" font-weight="normal" font-style="normal" font-family='"Liberation Sans", sans-serif' text-anchor="middle" textLength="14.9" lengthAdjust="spacingAndGlyphs" stroke="#000" stroke-width="0.12">0.4n</text>
<line x1="620.7" y1="176.25" x2="620.7" y2="178.85" stroke="#262626" stroke-width="0.9"/>
<text x="620.7" y="186.9" font-size="7.0" font-weight="normal" font-style="normal" font-family='"Liberation Sans", sans-serif' text-anchor="middle" textLength="14.9" lengthAdjust="spacingAndGlyphs" stroke="#000" stroke-width="0.12">0.5n</text>
<text x="412.0" y="203.9" font-size="10.5" font-weight="bold" font-style="normal" font-family='"Liberation Sans", sans-serif' text-anchor="start" textLength="159.25" lengthAdjust="spacingAndGlyphs"  stroke="#000" stroke-width="0.3">Augmentation parameter</text>
<text x="575.8" y="203.9" font-size="12.5" font-weight="bold" font-style="italic" font-family='"Liberation Sans", sans-serif' text-anchor="start" textLength="5.6" lengthAdjust="spacingAndGlyphs"  stroke="#000" stroke-width="0.3">ℓ</text>
<g transform="translate(337.5,98.7) rotate(-90)">
<text x="0" y="0" font-size="11" font-weight="bold" font-style="normal" font-family='"Liberation Sans", sans-serif' text-anchor="middle" textLength="86.5" lengthAdjust="spacingAndGlyphs"  stroke="#000" stroke-width="0.3">Mean ranking</text>
</g>
<text transform="translate(428.0,230.8) scale(1,1.38)" x="0" y="0" font-size="14" font-family='"Liberation Serif", serif' fill="#333" textLength="4.5" lengthAdjust="spacingAndGlyphs">(</text>
<text x="433.8" y="230.8" font-size="14.5" font-weight="normal" font-style="normal" font-family='"Liberation Serif", serif' text-anchor="start" textLength="8.9" lengthAdjust="spacingAndGlyphs" fill="#333">b</text>
<text transform="translate(444.1,230.8) scale(1,1.38)" x="0" y="0" font-size="14" font-family='"Liberation Serif", serif' fill="#333" textLength="4.5" lengthAdjust="spacingAndGlyphs">)</text>
<text x="456.4" y="230.8" font-size="14" font-weight="normal" font-style="normal" font-family='"Liberation Serif", serif' text-anchor="start" textLength="35.2" lengthAdjust="spacingAndGlyphs" fill="#333">Mean</text>
<text x="498.5" y="230.8" font-size="14" font-weight="normal" font-style="normal" font-family='"Liberation Serif", serif' text-anchor="start" textLength="48.9" lengthAdjust="spacingAndGlyphs" fill="#333">ranking</text>
<rect x="342.5" y="1.5" width="297" height="13" rx="1.6" fill="#fff" stroke="#d8d8d8" stroke-width="1"/>
<circle cx="345.7" cy="7.2" r="2.9" fill="#1f77b4"/>
<circle cx="345.7" cy="7.2" r="1.3" fill="none" stroke="rgba(255,255,255,0.45)" stroke-width="0.7"/>
<text x="352.1" y="9.9" font-size="8.1" font-weight="bold" font-style="normal" font-family='"Liberation Sans", sans-serif' text-anchor="start" textLength="15.3" lengthAdjust="spacingAndGlyphs"  stroke="#000" stroke-width="0.3">STC</text>
<rect x="379.84999999999997" y="4.25" width="5.7" height="5.7" fill="#ff7f0e"/>
<path d="M380.84999999999997,7.1 H384.55 M382.7,5.25 V8.95" stroke="rgba(255,255,255,0.45)" stroke-width="0.7"/>
<text x="389.1" y="9.9" font-size="8.1" font-weight="bold" font-style="normal" font-family='"Liberation Sans", sans-serif' text-anchor="start" textLength="14.0" lengthAdjust="spacingAndGlyphs"  stroke="#000" stroke-width="0.3">Rot</text>
<path d="M418.3,4.3 L421.3,9.899999999999999 L415.3,9.899999999999999 Z" fill="#2ca02c"/>
<path d="M418.3,6.3 L419.7,9.099999999999998 L416.90000000000003,9.099999999999998 Z" fill="none" stroke="rgba(255,255,255,0.45)" stroke-width="0.6"/>
<text x="424.7" y="9.9" font-size="8.1" font-weight="bold" font-style="normal" font-family='"Liberation Sans", sans-serif' text-anchor="start" textLength="19.1" lengthAdjust="spacingAndGlyphs"  stroke="#000" stroke-width="0.3">DTW</text>
<path d="M458.9,3.3 L462.7,7.1 L458.9,10.899999999999999 L455.09999999999997,7.1 Z" fill="#d62728"/>
<path d="M458.9,5.1 L460.9,7.1 L458.9,9.1 L456.9,7.1 Z" fill="none" stroke="rgba(255,255,255,0.8)" stroke-width="0.8"/>
<text x="465.1" y="9.9" font-size="8.1" font-weight="bold" font-style="normal" font-family='"Liberation Sans", sans-serif' text-anchor="start" textLength="15.3" lengthAdjust="spacingAndGlyphs"  stroke="#000" stroke-width="0.3">C22</text>
<path d="M495.9,4.6 L498.4,7.1 L495.9,9.6 L493.4,7.1 Z" fill="#f2ecf8" stroke="#9467bd" stroke-width="1.4" stroke-linejoin="round"/>
<text x="502.3" y="9.9" font-size="8.1" font-weight="bold" font-style="normal" font-family='"Liberation Sans", sans-serif' text-anchor="start" textLength="44.0" lengthAdjust="spacingAndGlyphs"  stroke="#000" stroke-width="0.3">Minirocket</text>
<path d="M560.45,4.65 L562.55,4.65 L563.95,6.05 L563.95,8.15 L562.55,9.55 L560.45,9.55 L559.05,8.15 L559.05,6.05 Z" fill="#c9aca5" stroke="#8c564b" stroke-width="1.25"/>
<path d="M558.65,7.1 H559.9499999999999 M564.35,7.1 H563.0500000000001 M561.5,4.249999999999999 V5.55 M561.5,9.950000000000001 V8.65" stroke="#fff" stroke-width="0.6" opacity="0.6"/>
<text x="567.9" y="9.9" font-size="8.1" font-weight="bold" font-style="normal" font-family='"Liberation Sans", sans-serif' text-anchor="start" textLength="12.8" lengthAdjust="spacingAndGlyphs"  stroke="#000" stroke-width="0.3">CIF</text>
<path d="M595.70,4.10 L596.61,6.05 L598.74,6.31 L597.17,7.78 L597.58,9.89 L595.70,8.85 L593.82,9.89 L594.23,7.78 L592.66,6.31 L594.79,6.05 Z" fill="#e377c2"/>
<circle cx="595.7" cy="7.5" r="0.8" fill="rgba(255,255,255,0.5)"/>
<text x="602.1" y="9.9" font-size="8.1" font-weight="bold" font-style="normal" font-family='"Liberation Sans", sans-serif' text-anchor="start" textLength="34.0" lengthAdjust="spacingAndGlyphs"  stroke="#000" stroke-width="0.3">WEASEL</text>
</svg></body></html>
